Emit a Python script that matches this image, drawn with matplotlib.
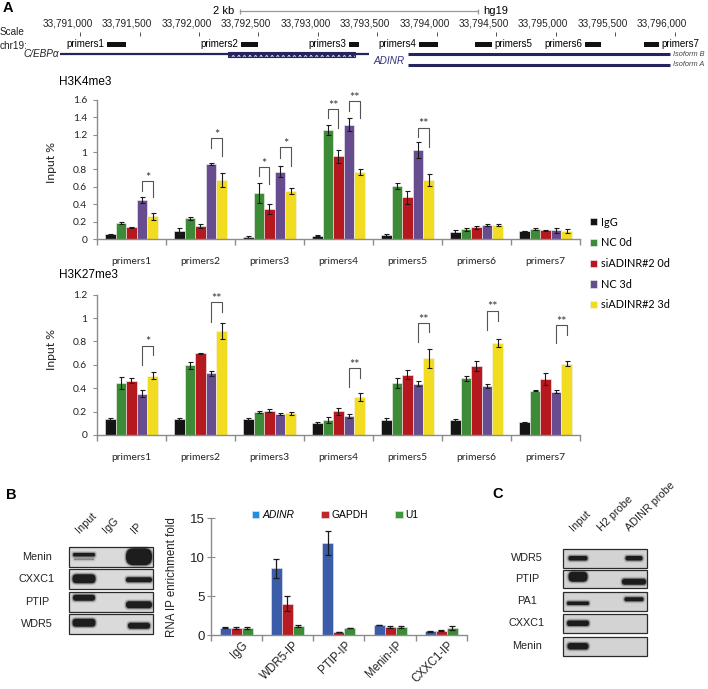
import numpy as np
import matplotlib
matplotlib.use('Agg')
import matplotlib.pyplot as plt
from matplotlib.patches import Rectangle, FancyBboxPatch, Patch
from matplotlib.transforms import ScaledTranslation

plt.rcParams['font.family'] = ['Liberation Sans', 'DejaVu Sans']
plt.rcParams['hatch.linewidth'] = 0.6

# ---------------- genome track (hg19, chr19) ----------------
track_ticks = [33791000, 33791500, 33792000, 33792500, 33793000, 33793500,
               33794000, 33794500, 33795000, 33795500, 33796000]
primer_names = ['primers1', 'primers2', 'primers3', 'primers4', 'primers5', 'primers6', 'primers7']
primer_start = [33791224, 33792353, 33793259, 33793847, 33794323, 33795248, 33795739]
primer_end = [33791386, 33792494, 33793343, 33794007, 33794464, 33795382, 33795865]
primer_label_side = ['left', 'left', 'left', 'left', 'right', 'left', 'right']
cebpa_span = (33790831, 33793427)
cebpa_cds = (33792241, 33793314)
adinr_span = (33793755, 33795960)
scale_start = 33792345
scale_len = 2000

# ---------------- ChIP-qPCR (Input %) ----------------
conditions = ['IgG', 'NC 0d', 'siADINR#2 0d', 'NC 3d', 'siADINR#2 3d']
cond_colors = ['#141414', '#3d8b37', '#b5191f', '#674c8f', '#f2dc22']

h3k4_igg = [0.06, 0.095, 0.03, 0.04, 0.05, 0.085, 0.095]
h3k4_nc0 = [0.185, 0.24, 0.53, 1.25, 0.61, 0.115, 0.117]
h3k4_si0 = [0.14, 0.155, 0.35, 0.95, 0.48, 0.138, 0.104]
h3k4_nc3 = [0.45, 0.865, 0.775, 1.315, 1.02, 0.165, 0.104]
h3k4_si3 = [0.265, 0.685, 0.555, 0.77, 0.68, 0.162, 0.092]
h3k4_igg_err = [0.005, 0.03, 0.01, 0.005, 0.015, 0.02, 0.005]
h3k4_nc0_err = [0.01, 0.02, 0.11, 0.055, 0.03, 0.02, 0.01]
h3k4_si0_err = [0.005, 0.025, 0.055, 0.07, 0.07, 0.015, 0.005]
h3k4_nc3_err = [0.03, 0.01, 0.065, 0.075, 0.09, 0.01, 0.03]
h3k4_si3_err = [0.04, 0.08, 0.035, 0.03, 0.07, 0.01, 0.025]
# (group, bar a, bar b, bracket top, leg a end, leg b end, label)
h3k4_sig = [(0, 3, 4, 0.67, 0.55, 0.48, '*'),
            (1, 3, 4, 1.157, 1.05, 0.95, '*'),
            (2, 1, 2, 0.825, 0.72, 0.63, '*'),
            (2, 3, 4, 1.06, 0.935, 0.84, '*'),
            (3, 1, 2, 1.49, 1.387, 1.28, '**'),
            (3, 3, 4, 1.585, 1.47, 1.387, '**'),
            (4, 3, 4, 1.28, 1.17, 1.06, '**')]

h3k27_igg = [0.134, 0.134, 0.134, 0.103, 0.13, 0.13, 0.11]
h3k27_nc0 = [0.445, 0.596, 0.197, 0.131, 0.445, 0.485, 0.378]
h3k27_si0 = [0.465, 0.70, 0.208, 0.202, 0.516, 0.59, 0.48]
h3k27_nc3 = [0.353, 0.527, 0.18, 0.162, 0.44, 0.42, 0.37]
h3k27_si3 = [0.505, 0.892, 0.185, 0.322, 0.655, 0.79, 0.61]
h3k27_igg_err = [0.01, 0.01, 0.01, 0.005, 0.015, 0.01, 0.005]
h3k27_nc0_err = [0.055, 0.03, 0.01, 0.025, 0.045, 0.02, 0.005]
h3k27_si0_err = [0.02, 0.005, 0.015, 0.03, 0.04, 0.04, 0.05]
h3k27_nc3_err = [0.03, 0.02, 0.01, 0.015, 0.025, 0.02, 0.015]
h3k27_si3_err = [0.03, 0.07, 0.01, 0.035, 0.08, 0.035, 0.02]
h3k27_sig = [(0, 3, 4, 0.764, 0.60, 0.68, '*'),
             (1, 3, 4, 1.134, 0.97, 1.05, '**'),
             (3, 3, 4, 0.57, 0.41, 0.49, '**'),
             (4, 3, 4, 0.958, 0.795, 0.878, '**'),
             (5, 3, 4, 1.063, 0.898, 0.978, '**'),
             (6, 3, 4, 0.94, 0.784, 0.858, '**')]

# ---------------- RIP (panel B) ----------------
rip_groups = ['IgG', 'WDR5-IP', 'PTIP-IP', 'Menin-IP', 'CXXC1-IP']
rip_adinr = [0.94, 8.6, 11.83, 1.29, 0.47]
rip_gapdh = [0.9, 4.03, 0.39, 0.99, 0.56]
rip_u1 = [0.9, 1.16, 0.9, 1.03, 0.9]
rip_adinr_err = [0.1, 1.22, 1.59, 0.05, 0.05]
rip_gapdh_err = [0.15, 0.99, 0.05, 0.12, 0.05]
rip_u1_err = [0.15, 0.15, 0.05, 0.15, 0.25]

# ---------------- western blots ----------------
blot_b_rows = ['Menin', 'CXXC1', 'PTIP', 'WDR5']
blot_b_lanes = ['Input', 'IgG', 'IP']
# (row, lane, dy, width, height, strength)
blot_b_bands = [(0, 0, -2, 22, 3.5, 1.0), (0, 0, 2.5, 20, 1.5, 0.35), (0, 2, 0, 26, 17, 1.0),
                (1, 0, 0, 23, 9, 1.0), (1, 2, 1, 26, 5, 1.0),
                (2, 0, -4, 22, 6, 1.0), (2, 2, 3, 26, 7, 1.0),
                (3, 0, -1, 23, 8, 1.0), (3, 2, 2, 22, 6, 1.0)]
blot_c_rows = ['WDR5', 'PTIP', 'PA1', 'CXXC1', 'Menin']
blot_c_lanes = ['Input', 'H2 probe', 'ADINR probe']
blot_c_bands = [(0, 0, 0, 19, 4.5, 1.0), (0, 2, 0, 17, 4.5, 1.0),
                (1, 0, -2, 19, 10, 1.0), (1, 2, 3, 24, 6, 1.0),
                (2, 0, 2, 22, 3.5, 1.0), (2, 2, -2, 19, 4, 1.0),
                (3, 0, 0, 22, 5.5, 1.0),
                (4, 0, 0, 21, 6.5, 1.0)]

W, H = 708, 689
fig = plt.figure(figsize=(W / 100, H / 100), dpi=100)


def px_axes(x0, y0, x1, y1):
    return fig.add_axes([x0 / W, 1 - y1 / H, (x1 - x0) / W, (y1 - y0) / H])


def shift(ax, dx):
    return ax.transData + ScaledTranslation(dx / 100, 0, fig.dpi_scale_trans)


canvas = fig.add_axes([0, 0, 1, 1])
canvas.set_xlim(0, W)
canvas.set_ylim(H, 0)
canvas.axis('off')

# ---- panel A track ----
navy = '#24245e'
G0, G1 = 33790327, 33796280
tr = px_axes(0, 0, W, 95)
tr.set_xlim(G0, G1)
tr.set_ylim(95, 0)
tr.axis('off')

for t in track_ticks:
    tr.text(t, 23, f'{t:,}', ha='center', va='center', fontsize=7.2, color='#222',
            transform=shift(tr, -12.5))
tr.vlines(track_ticks, 32, 35.5, color='#333', lw=0.6)

tr.plot([scale_start, scale_start + scale_len], [11, 11], color='#999', lw=0.9)
tr.vlines([scale_start, scale_start + scale_len], 8.5, 13.5, color='#999', lw=0.9)
tr.text(scale_start, 10.5, '2 kb', ha='right', va='center', fontsize=8, transform=shift(tr, -6))
tr.text(scale_start + scale_len, 10.5, 'hg19', ha='left', va='center', fontsize=8,
        transform=shift(tr, 5))

for name, s, e, side in zip(primer_names, primer_start, primer_end, primer_label_side):
    tr.add_patch(Rectangle((s, 42), e - s, 5, color='#111', lw=0))
    if side == 'left':
        tr.text(s, 44.3, name, ha='right', va='center', fontsize=7, transform=shift(tr, -2.5))
    else:
        tr.text(e, 44.3, name, ha='left', va='center', fontsize=7, transform=shift(tr, 2.5))

tr.hlines(54.3, *cebpa_span, color=navy, lw=1.6)
tr.add_patch(Rectangle((cebpa_cds[0], 51.6), cebpa_cds[1] - cebpa_cds[0], 5.6,
                       fc=navy, ec='#dcdcec', hatch='xxxxxx', lw=0))
tr.add_patch(Rectangle((cebpa_cds[0], 51.6), cebpa_cds[1] - cebpa_cds[0], 5.6,
                       fill=False, ec=navy, lw=0.8))
tr.text(cebpa_span[0], 54.3, 'C/EBPα', ha='right', va='center', fontsize=7.2, style='italic',
        color='#222', transform=shift(tr, -1))
tr.hlines([54.3, 65], *adinr_span, color=navy, lw=2.2)
tr.text(adinr_span[0], 61, 'ADINR', ha='right', va='center', fontsize=7.2, style='italic',
        color='#33337a', transform=shift(tr, -3))
tr.text(adinr_span[1], 54.3, 'Isoform B', ha='left', va='center', fontsize=5.3, style='italic',
        color='#444', transform=shift(tr, 3))
tr.text(adinr_span[1], 65, 'Isoform A', ha='left', va='center', fontsize=5.3, style='italic',
        color='#444', transform=shift(tr, 3))

canvas.text(3, 8.5, 'A', fontsize=10.5, fontweight='bold', va='center')
canvas.text(0, 32, 'Scale', fontsize=7.2, va='center', color='#222')
canvas.text(0, 46, 'chr19:', fontsize=7.2, va='center', color='#222')
canvas.text(59, 82, 'H3K4me3', fontsize=8.5, va='center')
canvas.text(59, 275, 'H3K27me3', fontsize=8.5, va='center')
canvas.text(6, 495, 'B', fontsize=10.5, fontweight='bold', va='center')
canvas.text(492, 494, 'C', fontsize=10.5, fontweight='bold', va='center')


def excel_style(ax, n, ymax, step, fam='Lato', size=7.4):
    ax.patch.set_alpha(0)
    ax.set_xlim(-0.5, n - 0.5)
    ax.set_ylim(0, ymax)
    for s in ['top', 'right']:
        ax.spines[s].set_visible(False)
    for s in ['left', 'bottom']:
        ax.spines[s].set_color('#8c8c8c')
        ax.spines[s].set_linewidth(1.0)
    ticks = np.arange(0, ymax + 1e-9, step)
    ax.set_yticks(ticks)
    ax.set_yticklabels([f'{v:g}' for v in ticks], family=fam, fontsize=size, color='#222')
    ax.set_xticks(np.arange(-0.5, n, 1.0))
    ax.set_xticklabels([])
    ax.tick_params(axis='x', which='major', length=4, color='#8c8c8c', width=1.0)


def histone_chart(ax, series, errors, sig, ymax, step, ylabel_y):
    n = len(primer_names)
    x = np.arange(n)
    w = 0.154
    bars = []
    for i, (vals, errs, col) in enumerate(zip(series, errors, cond_colors)):
        b = ax.bar(x + (i - 2) * w, vals, w, yerr=errs, color=col, edgecolor='#f4f4f4', lw=0.4,
                   capsize=1.8, error_kw=dict(elinewidth=0.8, capthick=0.8, ecolor='#1a1a1a'),
                   label=conditions[i])
        bars.append(b)
    excel_style(ax, n, ymax, step)
    ax.tick_params(axis='y', length=3, color='#8c8c8c', pad=4)
    ax.set_xticks(x, minor=True)
    ax.set_xticklabels(primer_names, minor=True, family='Lato', fontsize=7.4, color='#222')
    ax.tick_params(axis='x', which='minor', length=0, pad=13)
    ax.set_ylabel('Input %', family='Lato', fontsize=8.8, color='#222')
    ax.yaxis.set_label_coords(-0.083, ylabel_y)
    for g, a, b, top, ya, yb, lab in sig:
        xa, xb = g + (a - 2) * w, g + (b - 2) * w
        ax.plot([xa, xa, xb, xb], [ya, top, top, yb], color='#555', lw=0.8, clip_on=False)
        ax.annotate(lab, ((xa + xb) / 2, top), xytext=(0, -0.5), textcoords='offset points',
                    ha='center', va='baseline', fontsize=9, family='Lato', color='#333',
                    annotation_clip=False)
    return bars


ax1 = px_axes(97, 99.7, 580, 239.3)
bars = histone_chart(ax1, [h3k4_igg, h3k4_nc0, h3k4_si0, h3k4_nc3, h3k4_si3],
                     [h3k4_igg_err, h3k4_nc0_err, h3k4_si0_err, h3k4_nc3_err, h3k4_si3_err],
                     h3k4_sig, 1.6, 0.2, 0.547)
leg = ax1.legend(bars, conditions, loc='upper left', bbox_to_anchor=(590 / W, 1 - 216.5 / H),
                 bbox_transform=fig.transFigure, frameon=False, handlelength=0.65,
                 handleheight=0.65, handletextpad=0.35, labelspacing=0.9, borderpad=0,
                 borderaxespad=0, prop=dict(family='Lato', size=7.8))

ax2 = px_axes(97, 294.7, 580, 435)
histone_chart(ax2, [h3k27_igg, h3k27_nc0, h3k27_si0, h3k27_nc3, h3k27_si3],
              [h3k27_igg_err, h3k27_nc0_err, h3k27_si0_err, h3k27_nc3_err, h3k27_si3_err],
              h3k27_sig, 1.2, 0.2, 0.61)

# ---- panel B bar chart ----
rip_colors = ['#3b5ca8', '#b71c22', '#3b8d35']
rip_legend_colors = ['#1f8fe0', '#c0272d', '#3c9a3a']
axb = px_axes(210.5, 518.3, 467, 635)
xb = np.arange(len(rip_groups))
wb = 0.215
for i, (vals, errs, col) in enumerate(zip([rip_adinr, rip_gapdh, rip_u1],
                                          [rip_adinr_err, rip_gapdh_err, rip_u1_err], rip_colors)):
    axb.bar(xb + (i - 1) * wb, vals, wb, yerr=errs, color=col, edgecolor='#e8e8f0', lw=0.4,
            capsize=2.5, error_kw=dict(elinewidth=0.9, capthick=0.9, ecolor='#1a1a1a'))
excel_style(axb, len(rip_groups), 15, 5, fam='Liberation Sans', size=9.5)
axb.tick_params(axis='y', direction='inout', length=6, color='#8c8c8c', pad=1)
axb.set_xticks(xb, minor=True)
axb.set_xticklabels(rip_groups, minor=True, rotation=45, ha='right', va='top',
                    rotation_mode='anchor', fontsize=8.3, color='#222')
axb.tick_params(axis='x', which='minor', length=0, pad=3)
for lbl in axb.get_xticklabels(minor=True):
    lbl.set_transform(lbl.get_transform() + ScaledTranslation(0.06, 0, fig.dpi_scale_trans))
axb.set_ylabel('RNA IP enrichment fold', fontsize=8.3, color='#222')
axb.yaxis.set_label_coords(-0.125, 0.5)
handles = [Patch(facecolor=c, edgecolor='#e8e8f0', lw=0.4) for c in rip_legend_colors]
legb = axb.legend(handles, ['ADINR', 'GAPDH', 'U1'], loc='center left',
                  bbox_to_anchor=(251.5 / W, 1 - 515 / H), bbox_transform=fig.transFigure,
                  ncol=3, frameon=False, handlelength=0.75, handleheight=0.75,
                  handletextpad=0.3, columnspacing=2.6, borderpad=0, borderaxespad=0,
                  fontsize=7.4)
legb.get_texts()[0].set_style('italic')


# ---- blots ----
def band(xc, yc, w, h, k):
    for d, a in ((2.0, 0.12), (1.0, 0.3), (0.0, 0.88)):
        ww, hh = w + 2 * d, h + 2 * d
        r = min(ww, hh) / 2 * 0.9
        canvas.add_patch(FancyBboxPatch((xc - ww / 2, yc - hh / 2), ww, hh,
                                        boxstyle=f'round,pad=0,rounding_size={r}',
                                        fc='#0e0e0e', ec='none', alpha=a * k))


def blot(rows, lanes, bands, x0, x1, tops, hgt, lane_dx, label_x, lab_y, bg):
    for r, (name, top) in enumerate(zip(rows, tops)):
        canvas.add_patch(Rectangle((x0, top), x1 - x0, hgt, fc=bg, ec='#2a2a2a', lw=0.9))
        canvas.text(label_x, top + hgt / 2, name, ha='center', va='center', fontsize=7.8,
                    color='#222')
    for r, ln, dy, w, h, k in bands:
        band(x0 + lane_dx[ln], tops[r] + hgt / 2 + dy, w, h, k)
    for ln, name in enumerate(lanes):
        canvas.text(x0 + lane_dx[ln] - 3, lab_y, name, rotation=45, ha='left', va='bottom',
                    rotation_mode='anchor', fontsize=7.8, color='#222')


blot(blot_b_rows, blot_b_lanes, blot_b_bands, 69, 153, [547, 569, 592, 614], 19.5,
     [15, 42, 70], 37, 535, '#dadada')
blot(blot_c_rows, blot_c_lanes, blot_c_bands, 563, 647, [549, 569.5, 592, 614, 637], 18.5,
     [15, 43, 71], 527, 533, '#d3d3d3')

fig.savefig('out.png', dpi=100)
